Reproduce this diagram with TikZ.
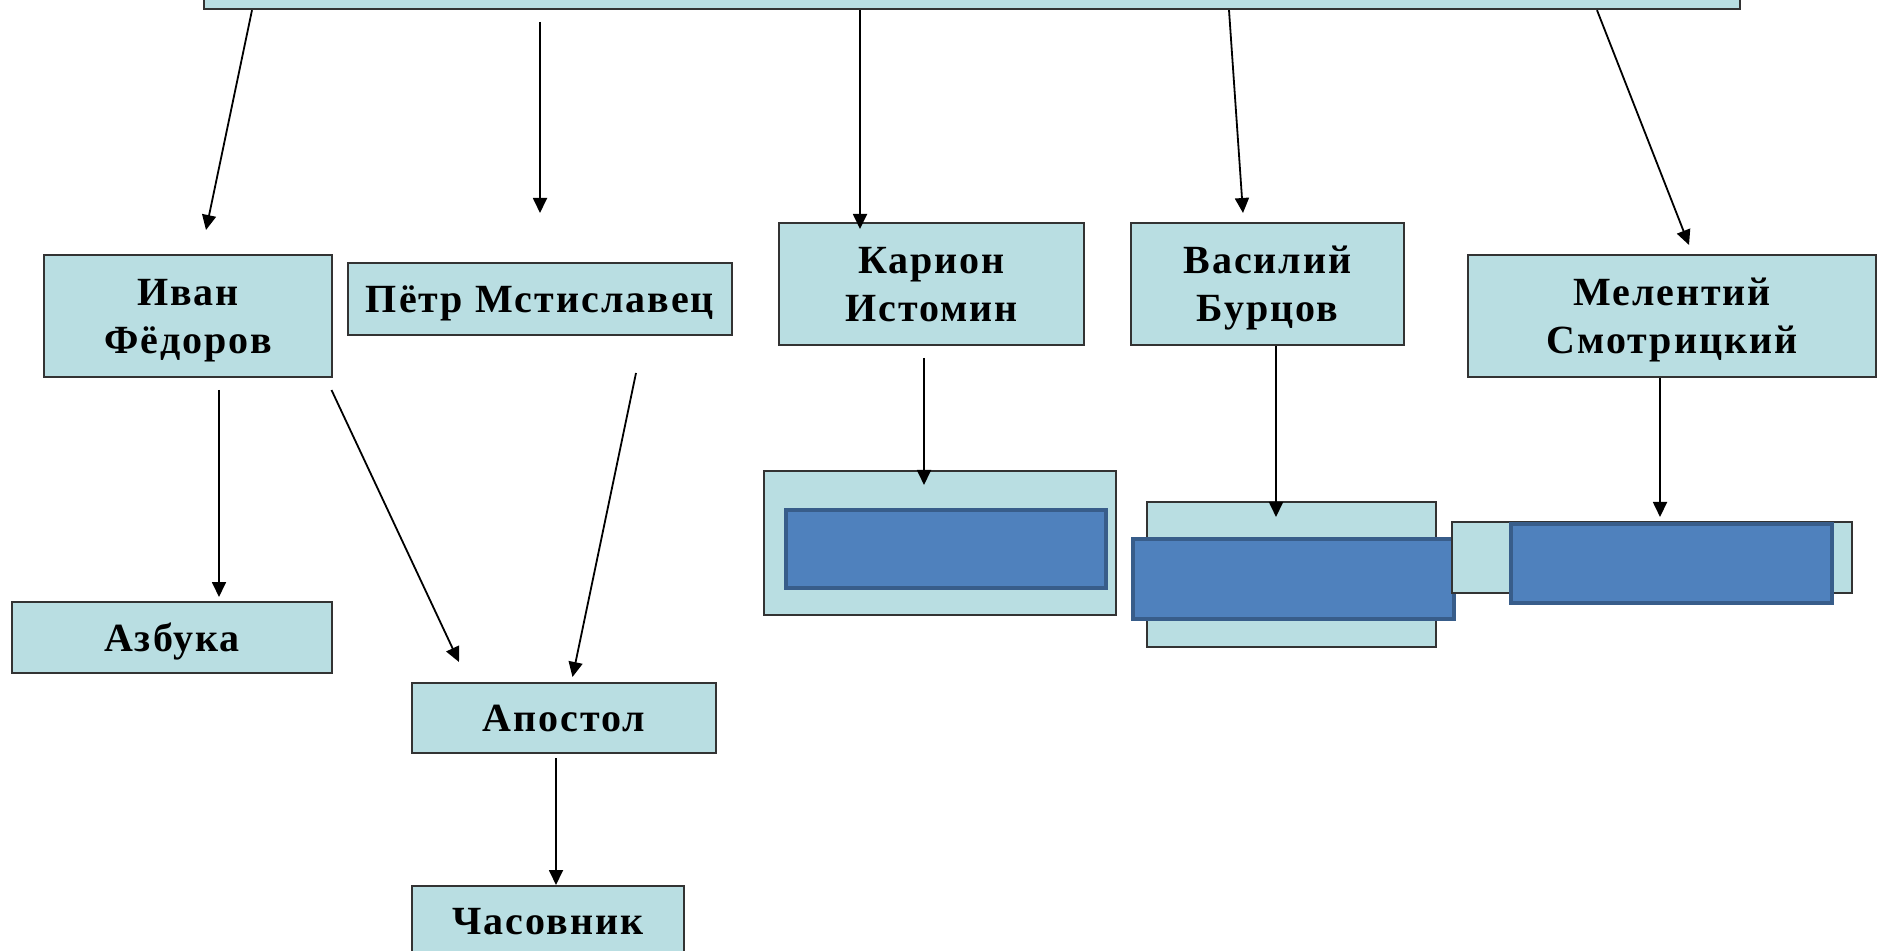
\documentclass[tikz,border=0pt]{standalone}
\usepackage{fontspec}
\setmainfont{Liberation Serif}
\newfontfamily\boxfont{Liberation Serif}[LetterSpace=5]
\usetikzlibrary{arrows.meta}
\definecolor{boxfill}{RGB}{185,222,226}
\definecolor{innerfill}{RGB}{79,129,189}
\definecolor{innerline}{RGB}{56,93,138}

\begin{document}
\begin{tikzpicture}[x=0.5pt,y=0.5pt,yscale=-1,
  box/.style={draw=black!80, line width=1.2pt, fill=boxfill, inner sep=0pt, align=center,
    text depth=0pt, font=\boxfont\bfseries\fontsize{20}{24}\selectfont},
  inner/.style={draw=innerline, line width=2pt, fill=innerfill, inner sep=0pt},
  arr/.style={-{Triangle[length=7.5pt,width=7pt]}, line width=0.9pt}]
\clip (0,0) rectangle (1878,951);

% Top box
\node[box, minimum width=768pt, minimum height=44.5pt] (top) at (972,-35.5) {};

% Names
\node[box, minimum width=144pt, minimum height=61pt] (ivan) at (188,316) {Иван\\Фёдоров};
\node[box, minimum width=192pt, minimum height=36pt] (petr) at (540,299) {Пётр Мстиславец};
\node[box, minimum width=152.5pt, minimum height=61pt] (karion) at (931.5,284) {Карион\\Истомин};
\node[box, minimum width=136.5pt, minimum height=61pt] (vasily) at (1267.5,284) {Василий\\Бурцов};
\node[box, minimum width=204pt, minimum height=61pt] (melenty) at (1672,316) {Мелентий\\Смотрицкий};

% Books
\node[box, minimum width=160pt, minimum height=35.5pt] (azbuka) at (172,637.5) {Азбука};
\node[box, minimum width=152pt, minimum height=35pt] (apostol) at (564,718) {Апостол};
\node[box, minimum width=136pt, minimum height=35.5pt] (chasovnik) at (548,921.5) {Часовник};

% Empty boxes
\node[box, minimum width=176pt, minimum height=72pt] (karionout) at (940,543) {};
\node[inner, minimum width=160pt, minimum height=39pt] (karionin) at (946,549) {};
\node[box, minimum width=144.5pt, minimum height=72.5pt] (vasilyout) at (1291.5,574.5) {};
\node[inner, minimum width=160.5pt, minimum height=40pt] (vasilyin) at (1293.5,579) {};
\node[box, minimum width=200pt, minimum height=35.5pt] (melentyout) at (1652,557.5) {};
\node[inner, minimum width=160.5pt, minimum height=39.5pt] (melentyin) at (1671.5,563.5) {};

% Free ends of arrows
\coordinate (tipivan) at (206,230);
\coordinate (petrtop) at (540,22);
\coordinate (tippetr) at (540,213);
\coordinate (tipkarion) at (860,229);
\coordinate (tipvasily) at (1243,213);
\coordinate (tipmelenty) at (1689,245);
\coordinate (ivanlow) at (219,390);
\coordinate (tipazbuka) at (219,597);
\coordinate (ivanright) at (331.5,390);
\coordinate (tipapostola) at (459,662);
\coordinate (petrlow) at (636,373);
\coordinate (tipapostolb) at (572.5,677);
\coordinate (apostollow) at (556,758);
\coordinate (tipchasovnik) at (556,885);
\coordinate (karionlow) at (924,358);
\coordinate (tipkarionout) at (924,485);
\coordinate (tipvasilyout) at (1276,517);
\coordinate (tipmelentyout) at (1660,517);

% Arrows
\draw[arr] (top.south -| 252,0) -- (tipivan);
\draw[arr] (petrtop) -- (tippetr);
\draw[arr] (top.south -| 860,0) -- (tipkarion);
\draw[arr] (top.south -| 1229,0) -- (tipvasily);
\draw[arr] (top.south -| 1597,0) -- (tipmelenty);
\draw[arr] (ivanlow) -- (tipazbuka);
\draw[arr] (ivanright) -- (tipapostola);
\draw[arr] (petrlow) -- (tipapostolb);
\draw[arr] (apostollow) -- (tipchasovnik);
\draw[arr] (karionlow) -- (tipkarionout);
\draw[arr] (vasily.south -| 1276,0) -- (tipvasilyout);
\draw[arr] (melenty.south -| 1660,0) -- (tipmelentyout);

\end{tikzpicture}
\end{document}
